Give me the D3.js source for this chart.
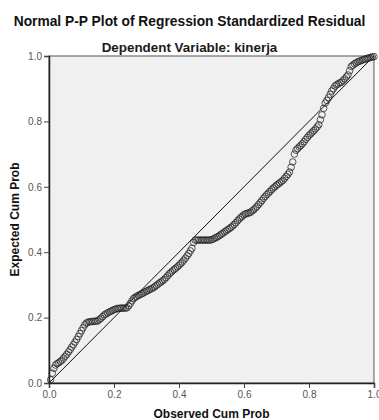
<!DOCTYPE html>
<html>
<head>
<meta charset="utf-8">
<script src="https://cdn.jsdelivr.net/npm/d3@7"></script>
<style>
  html, body { margin: 0; padding: 0; background: #fff; }
  svg { display: block; font-family: Arial, "Liberation Sans", sans-serif; }
</style>
</head>
<body>
<div id="chart"></div>
<script>
// Chart texts.
const title = 'Normal P-P Plot of Regression Standardized Residual'
const subtitle = 'Dependent Variable: kinerja'
const xLabel = 'Observed Cum Prob'
const yLabel = 'Expected Cum Prob'
const ticks = [0, 0.2, 0.4, 0.6, 0.8, 1.0]

// Observed cumulative probability of each residual.
const observed = [
  0.005, 0.010, 0.015, 0.020, 0.025, 0.030, 0.035, 0.040, 0.045, 0.050,
  0.055, 0.060, 0.065, 0.070, 0.075, 0.080, 0.085, 0.090, 0.095, 0.100,
  0.105, 0.110, 0.115, 0.120, 0.125, 0.130, 0.135, 0.140, 0.145, 0.150,
  0.155, 0.160, 0.165, 0.170, 0.175, 0.180, 0.185, 0.190, 0.195, 0.200,
  0.205, 0.210, 0.215, 0.220, 0.225, 0.230, 0.235, 0.240, 0.245, 0.250,
  0.255, 0.260, 0.265, 0.270, 0.275, 0.280, 0.285, 0.290, 0.295, 0.300,
  0.305, 0.310, 0.315, 0.320, 0.325, 0.330, 0.335, 0.340, 0.345, 0.350,
  0.355, 0.360, 0.365, 0.370, 0.375, 0.380, 0.385, 0.390, 0.395, 0.400,
  0.405, 0.410, 0.415, 0.420, 0.425, 0.430, 0.435, 0.440, 0.445, 0.450,
  0.455, 0.460, 0.465, 0.470, 0.475, 0.480, 0.485, 0.490, 0.495, 0.500,
  0.505, 0.510, 0.515, 0.520, 0.525, 0.530, 0.535, 0.540, 0.545, 0.550,
  0.555, 0.560, 0.565, 0.570, 0.575, 0.580, 0.585, 0.590, 0.595, 0.600,
  0.605, 0.610, 0.615, 0.620, 0.625, 0.630, 0.635, 0.640, 0.645, 0.650,
  0.655, 0.660, 0.665, 0.670, 0.675, 0.680, 0.685, 0.690, 0.695, 0.700,
  0.705, 0.710, 0.715, 0.720, 0.725, 0.730, 0.735, 0.740, 0.745, 0.750,
  0.755, 0.760, 0.765, 0.770, 0.775, 0.780, 0.785, 0.790, 0.795, 0.800,
  0.805, 0.810, 0.815, 0.820, 0.825, 0.830, 0.835, 0.840, 0.845, 0.850,
  0.855, 0.860, 0.865, 0.870, 0.875, 0.880, 0.885, 0.890, 0.895, 0.900,
  0.905, 0.910, 0.915, 0.920, 0.925, 0.930, 0.935, 0.940, 0.945, 0.950,
  0.955, 0.960, 0.965, 0.970, 0.975, 0.980, 0.985, 0.990, 0.995, 1.000
]

// Expected cumulative probability.
const expected = [
  0.010, 0.030, 0.045, 0.055, 0.059, 0.062, 0.066, 0.070, 0.076, 0.082,
  0.088, 0.095, 0.102, 0.110, 0.117, 0.125, 0.133, 0.142, 0.151, 0.160,
  0.169, 0.178, 0.183, 0.186, 0.187, 0.188, 0.188, 0.189, 0.189, 0.190,
  0.194, 0.198, 0.203, 0.208, 0.211, 0.214, 0.217, 0.219, 0.222, 0.224,
  0.226, 0.228, 0.228, 0.229, 0.229, 0.229, 0.229, 0.230, 0.236, 0.243,
  0.251, 0.258, 0.262, 0.265, 0.268, 0.270, 0.273, 0.275, 0.278, 0.281,
  0.283, 0.286, 0.288, 0.291, 0.294, 0.298, 0.302, 0.306, 0.309, 0.313,
  0.317, 0.322, 0.328, 0.334, 0.338, 0.343, 0.347, 0.351, 0.355, 0.360,
  0.365, 0.370, 0.376, 0.382, 0.389, 0.396, 0.404, 0.412, 0.430, 0.437,
  0.437, 0.437, 0.437, 0.437, 0.437, 0.437, 0.437, 0.437, 0.437, 0.438,
  0.440, 0.443, 0.445, 0.448, 0.451, 0.455, 0.458, 0.462, 0.465, 0.469,
  0.472, 0.476, 0.480, 0.485, 0.490, 0.496, 0.501, 0.506, 0.510, 0.515,
  0.517, 0.519, 0.520, 0.522, 0.526, 0.530, 0.535, 0.540, 0.546, 0.552,
  0.558, 0.565, 0.570, 0.576, 0.581, 0.586, 0.591, 0.596, 0.600, 0.605,
  0.608, 0.612, 0.616, 0.620, 0.626, 0.632, 0.638, 0.645, 0.660, 0.676,
  0.700, 0.712, 0.717, 0.722, 0.727, 0.732, 0.738, 0.745, 0.751, 0.757,
  0.762, 0.767, 0.772, 0.777, 0.783, 0.790, 0.805, 0.820, 0.840, 0.856,
  0.864, 0.873, 0.883, 0.893, 0.900, 0.908, 0.912, 0.915, 0.918, 0.920,
  0.925, 0.930, 0.936, 0.942, 0.955, 0.968, 0.972, 0.976, 0.979, 0.982,
  0.984, 0.986, 0.988, 0.990, 0.991, 0.993, 0.994, 0.996, 0.997, 0.998
]

const width = 379
const height = 420
const margin = { top: 56, right: 5, bottom: 37, left: 49 }

const svg = d3.select('#chart')
  .append('svg')
  .attr('width', width)
  .attr('height', height)

const x = d3.scaleLinear().domain([0, 1]).range([margin.left, width - margin.right])
const y = d3.scaleLinear().domain([0, 1]).range([height - margin.bottom, margin.top])

// Titles.
svg.append('text')
  .attr('x', width / 2)
  .attr('y', 26)
  .attr('text-anchor', 'middle')
  .attr('font-size', 13.8)
  .attr('font-weight', 'bold')
  .attr('fill', '#111')
  .text(title)

svg.append('text')
  .attr('x', width / 2)
  .attr('y', 52)
  .attr('text-anchor', 'middle')
  .attr('font-size', 13.4)
  .attr('font-weight', 'bold')
  .attr('fill', '#1a1a1a')
  .text(subtitle)

// Plot area.
svg.append('rect')
  .attr('x', x(0))
  .attr('y', y(1))
  .attr('width', x(1) - x(0))
  .attr('height', y(0) - y(1))
  .attr('fill', '#f0f0f0')
  .attr('stroke', '#555')
  .attr('stroke-width', 1)

// Reference diagonal.
svg.append('line')
  .attr('x1', x(0)).attr('y1', y(0))
  .attr('x2', x(1)).attr('y2', y(1))
  .attr('stroke', '#111')
  .attr('stroke-width', 1)

// Points.
const points = observed.map((o, i) => ({ o, e: expected[i] }))
svg.append('g')
  .selectAll('circle')
  .data(points)
  .join('circle')
  .attr('cx', d => x(d.o))
  .attr('cy', d => y(d.e))
  .attr('r', 3.3)
  .attr('fill', 'none')
  .attr('stroke', '#222')
  .attr('stroke-opacity', 0.75)
  .attr('stroke-width', 1)

// Axes.
const xAxis = svg.append('g')
  .attr('transform', `translate(0,${y(0)})`)
  .call(d3.axisBottom(x).tickValues(ticks).tickFormat(d3.format('.1f')).tickSizeOuter(0).tickSize(5).tickPadding(3))
const yAxis = svg.append('g')
  .attr('transform', `translate(${x(0)},0)`)
  .call(d3.axisLeft(y).tickValues(ticks).tickFormat(d3.format('.1f')).tickSizeOuter(0).tickSize(5).tickPadding(2))

for (const ax of [xAxis, yAxis]) {
  ax.select('.domain').attr('stroke', '#222').attr('stroke-width', 1.5)
  ax.selectAll('.tick line').attr('stroke', '#444')
  ax.selectAll('.tick text')
    .attr('fill', '#555')
    .attr('font-size', 10)
    .attr('font-family', 'Arial, "Liberation Sans", sans-serif')
}

// Axis titles.
svg.append('text')
  .attr('x', (x(0) + x(1)) / 2)
  .attr('y', 418)
  .attr('text-anchor', 'middle')
  .attr('font-size', 12)
  .attr('font-weight', 'bold')
  .attr('fill', '#111')
  .text(xLabel)

svg.append('text')
  .attr('transform', `translate(19,${(y(0) + y(1)) / 2}) rotate(-90)`)
  .attr('text-anchor', 'middle')
  .attr('font-size', 12)
  .attr('font-weight', 'bold')
  .attr('fill', '#111')
  .text(yLabel)
</script>
</body>
</html>
